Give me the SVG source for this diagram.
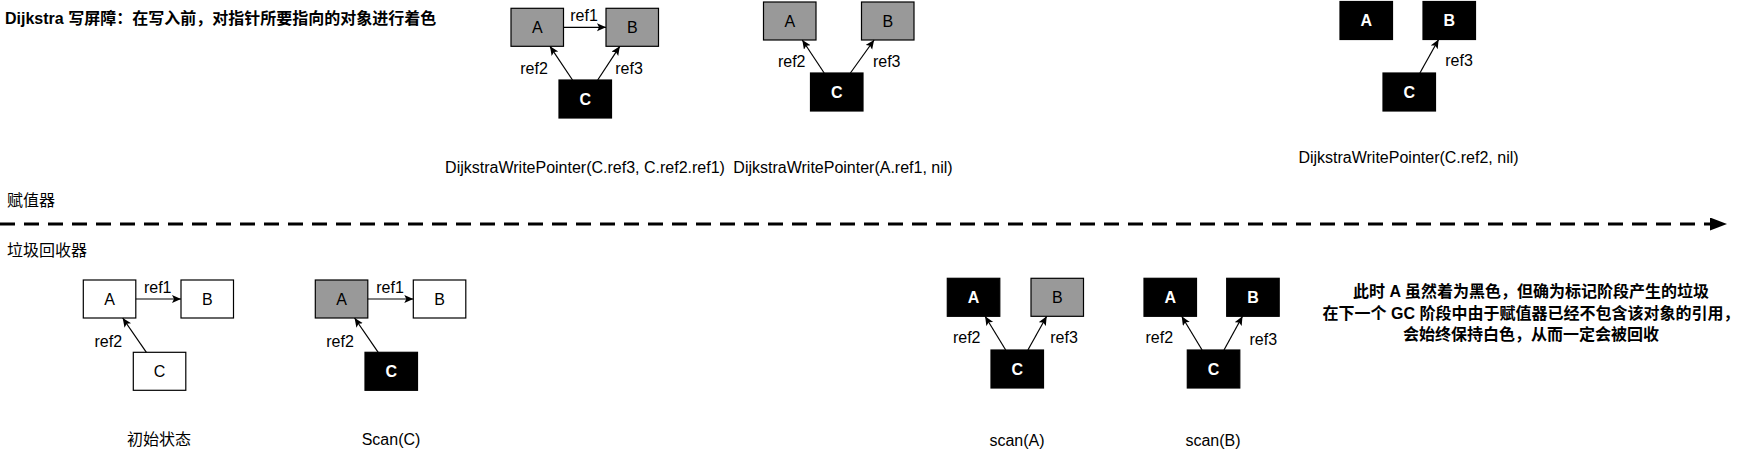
<svg xmlns="http://www.w3.org/2000/svg" width="1749" height="456" viewBox="0 0 1749 456">
<style>
.box{stroke:#000;stroke-width:1.2}
.w{fill:#fff}
.g{fill:#999}
.k{fill:#000}
text{font-family:"Liberation Sans","Noto Sans CJK SC",sans-serif;fill:#000}
.lt{font-size:16px;text-anchor:middle}
.wt{font-size:16px;text-anchor:middle;fill:#fff;font-weight:bold}
.cj{font-size:16px}
.bd{font-size:16px;font-weight:bold}
.edge{stroke:#000;stroke-width:1.2;fill:none;marker-end:url(#arr)}
</style>
<defs>
<marker id="arr" markerUnits="userSpaceOnUse" markerWidth="10" markerHeight="9" refX="9" refY="4" orient="auto">
<path d="M0,0 L9,4 L0,8 L2,4 Z" fill="#000"/>
</marker>
<marker id="big" markerUnits="userSpaceOnUse" markerWidth="18" markerHeight="14" refX="17" refY="6.5" orient="auto">
<path d="M0,0 L17,6.5 L0,13 Z" fill="#000"/>
</marker>
</defs>

<text id="title" class="bd" x="5" y="24">Dijkstra 写屏障：在写入前，对指针所要指向的对象进行着色</text>
<text id="lbl-mutator" class="cj" x="7" y="206">赋值器</text>
<text id="lbl-collector" class="cj" x="7" y="256">垃圾回收器</text>

<!-- Top group 1 -->
<g id="t1-A"><rect class="box g" x="511" y="8.3" width="52.5" height="38"/><text class="lt" x="537.3" y="33">A</text></g>
<g id="t1-B"><rect class="box g" x="606" y="8.3" width="52.5" height="38"/><text class="lt" x="632.3" y="33">B</text></g>
<g id="t1-C"><rect class="box k" x="559" y="80" width="52.5" height="38"/><text class="wt" x="585.3" y="104.7">C</text></g>
<text id="t1-cap" class="lt" x="585" y="172.5">DijkstraWritePointer(C.ref3, C.ref2.ref1)</text>

<!-- Top group 2 -->
<g id="t2-A"><rect class="box g" x="763.5" y="2" width="52.5" height="38"/><text class="lt" x="789.8" y="26.7">A</text></g>
<g id="t2-B"><rect class="box g" x="861.5" y="2" width="52.5" height="38"/><text class="lt" x="887.8" y="26.7">B</text></g>
<g id="t2-C"><rect class="box k" x="810.5" y="73" width="52.5" height="38"/><text class="wt" x="836.8" y="97.7">C</text></g>
<text id="t2-cap" class="lt" x="843" y="172.5">DijkstraWritePointer(A.ref1, nil)</text>

<!-- Top group 3 -->
<g id="t3-A"><rect class="box k" x="1340" y="1.5" width="52.5" height="38"/><text class="wt" x="1366.3" y="26.2">A</text></g>
<g id="t3-B"><rect class="box k" x="1423" y="1.5" width="52.5" height="38"/><text class="wt" x="1449.3" y="26.2">B</text></g>
<g id="t3-C"><rect class="box k" x="1383" y="73" width="52.5" height="38"/><text class="wt" x="1409.3" y="97.7">C</text></g>
<text id="t3-cap" class="lt" x="1408.5" y="163">DijkstraWritePointer(C.ref2, nil)</text>

<!-- Initial state -->
<g id="b1-A"><rect class="box w" x="83.3" y="280" width="52.5" height="38"/><text class="lt" x="109.6" y="304.7">A</text></g>
<g id="b1-B"><rect class="box w" x="181" y="280" width="52.5" height="38"/><text class="lt" x="207.3" y="304.7">B</text></g>
<g id="b1-C"><rect class="box w" x="133.3" y="352.3" width="52.5" height="38"/><text class="lt" x="159.6" y="377">C</text></g>
<text id="b1-cap" class="cj" x="159" y="445" text-anchor="middle">初始状态</text>

<!-- Scan(C) -->
<g id="b2-A"><rect class="box g" x="315.3" y="280" width="52.5" height="38"/><text class="lt" x="341.6" y="304.7">A</text></g>
<g id="b2-B"><rect class="box w" x="413.3" y="280" width="52.5" height="38"/><text class="lt" x="439.6" y="304.7">B</text></g>
<g id="b2-C"><rect class="box k" x="365" y="352.3" width="52.5" height="38"/><text class="wt" x="391.3" y="377">C</text></g>
<text id="b2-cap" class="lt" x="391" y="445">Scan(C)</text>

<!-- scan(A) -->
<g id="b3-A"><rect class="box k" x="947.3" y="278.3" width="52.5" height="38"/><text class="wt" x="973.6" y="303">A</text></g>
<g id="b3-B"><rect class="box g" x="1031" y="278.3" width="52.5" height="38"/><text class="lt" x="1057.3" y="303">B</text></g>
<g id="b3-C"><rect class="box k" x="991" y="350" width="52.5" height="38"/><text class="wt" x="1017.3" y="374.7">C</text></g>
<text id="b3-cap" class="lt" x="1017" y="446">scan(A)</text>

<!-- scan(B) -->
<g id="b4-A"><rect class="box k" x="1144" y="278.3" width="52.5" height="38"/><text class="wt" x="1170.3" y="303">A</text></g>
<g id="b4-B"><rect class="box k" x="1226.7" y="278.3" width="52.5" height="38"/><text class="wt" x="1253" y="303">B</text></g>
<g id="b4-C"><rect class="box k" x="1187.3" y="350" width="52.5" height="38"/><text class="wt" x="1213.6" y="374.7">C</text></g>
<text id="b4-cap" class="lt" x="1213" y="446">scan(B)</text>

<g id="note" class="bd" text-anchor="middle">
<text x="1531" y="296.5">此时 A 虽然着为黑色，但确为标记阶段产生的垃圾</text>
<text x="1531" y="318.5">在下一个 GC 阶段中由于赋值器已经不包含该对象的引用，</text>
<text x="1531" y="340">会始终保持白色，从而一定会被回收</text>
</g>

<g id="connectors">
<line x1="0" y1="224" x2="1727" y2="224" stroke="#000" stroke-width="3" stroke-dasharray="15 9" marker-end="url(#big)"/>

<line class="edge" x1="563.5" y1="27.3" x2="606" y2="27.3"/>
<line class="edge" x1="572.5" y1="80" x2="550" y2="46.3"/>
<line class="edge" x1="597.7" y1="80" x2="619.8" y2="46.3"/>
<text class="lt" x="584" y="21">ref1</text>
<text class="lt" x="534" y="74">ref2</text>
<text class="lt" x="629" y="74">ref3</text>

<line class="edge" x1="824.2" y1="73" x2="802.3" y2="40"/>
<line class="edge" x1="850.4" y1="73" x2="874.1" y2="40"/>
<text class="lt" x="791.7" y="67">ref2</text>
<text class="lt" x="886.7" y="67">ref3</text>

<line class="edge" x1="1419.9" y1="73" x2="1438.6" y2="39.5"/>
<text class="lt" x="1459" y="65.5">ref3</text>

<line class="edge" x1="135.8" y1="299" x2="181" y2="299"/>
<line class="edge" x1="146.4" y1="352.3" x2="122.7" y2="318"/>
<text class="lt" x="157.7" y="292.7">ref1</text>
<text class="lt" x="108.3" y="346.5">ref2</text>

<line class="edge" x1="367.8" y1="299" x2="413.3" y2="299"/>
<line class="edge" x1="378.2" y1="352.3" x2="354.6" y2="318"/>
<text class="lt" x="390" y="292.7">ref1</text>
<text class="lt" x="340" y="346.5">ref2</text>

<line class="edge" x1="1005.7" y1="350" x2="985.1" y2="316.3"/>
<line class="edge" x1="1027.9" y1="350" x2="1046.7" y2="316.3"/>
<text class="lt" x="966.7" y="342.7">ref2</text>
<text class="lt" x="1064" y="342.7">ref3</text>

<line class="edge" x1="1202.1" y1="350" x2="1181.7" y2="316.3"/>
<line class="edge" x1="1224" y1="350" x2="1242.5" y2="316.3"/>
<text class="lt" x="1159.3" y="342.7">ref2</text>
<text class="lt" x="1263.3" y="345">ref3</text>
</g>
</svg>
